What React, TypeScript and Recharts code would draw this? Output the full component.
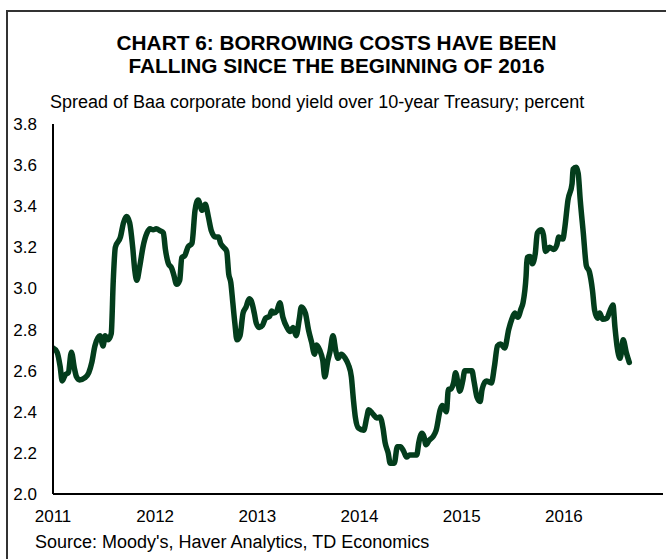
import React from "react";
import { LineChart, Line, XAxis, YAxis } from "recharts";

// decimal years
const dates = [
  2011.0, 2011.04, 2011.07, 2011.09, 2011.12, 2011.15, 2011.18, 2011.21, 2011.23, 2011.26,
  2011.31, 2011.35, 2011.38, 2011.41, 2011.46, 2011.49, 2011.51, 2011.54, 2011.57, 2011.59,
  2011.61, 2011.66, 2011.69, 2011.72, 2011.75, 2011.78, 2011.8, 2011.82, 2011.85, 2011.88,
  2011.92, 2011.95, 2011.98, 2012.01, 2012.05, 2012.08, 2012.1, 2012.13, 2012.16, 2012.18,
  2012.21, 2012.24, 2012.26, 2012.29, 2012.32, 2012.36, 2012.39, 2012.42, 2012.46, 2012.49,
  2012.52, 2012.55, 2012.59, 2012.62, 2012.64, 2012.67, 2012.7, 2012.72, 2012.74, 2012.76,
  2012.78, 2012.8, 2012.83, 2012.86, 2012.89, 2012.92, 2012.94, 2012.97, 2012.99, 2013.02,
  2013.05, 2013.08, 2013.12, 2013.14, 2013.16, 2013.19, 2013.22, 2013.25, 2013.29, 2013.32,
  2013.35, 2013.38, 2013.41, 2013.43, 2013.47, 2013.5, 2013.53, 2013.56, 2013.58, 2013.61,
  2013.64, 2013.66, 2013.69, 2013.71, 2013.74, 2013.77, 2013.79, 2013.82, 2013.86, 2013.89,
  2013.92, 2013.94, 2013.96, 2013.99, 2014.04, 2014.07, 2014.09, 2014.13, 2014.17, 2014.2,
  2014.23, 2014.25, 2014.28, 2014.3, 2014.34, 2014.37, 2014.4, 2014.43, 2014.46, 2014.49,
  2014.53, 2014.56, 2014.58, 2014.61, 2014.63, 2014.65, 2014.68, 2014.72, 2014.75, 2014.79,
  2014.81, 2014.85, 2014.87, 2014.89, 2014.92, 2014.94, 2014.97, 2014.98, 2015.01, 2015.03,
  2015.06, 2015.1, 2015.12, 2015.15, 2015.18, 2015.2, 2015.24, 2015.29, 2015.32, 2015.35,
  2015.38, 2015.42, 2015.46, 2015.49, 2015.52, 2015.55, 2015.58, 2015.6, 2015.63, 2015.64,
  2015.67, 2015.69, 2015.72, 2015.74, 2015.78, 2015.8, 2015.82, 2015.86, 2015.9, 2015.93,
  2015.95, 2015.99, 2016.01, 2016.04, 2016.08, 2016.09, 2016.12, 2016.14, 2016.16, 2016.19,
  2016.22, 2016.25, 2016.28, 2016.3, 2016.33, 2016.35, 2016.38, 2016.42, 2016.45, 2016.48,
  2016.5, 2016.52, 2016.55, 2016.56, 2016.58, 2016.61, 2016.64,
];

// Baa spread over 10-year Treasury, percent
const spread = [
  2.71, 2.69, 2.62, 2.55, 2.58, 2.59, 2.69, 2.61, 2.57, 2.555,
  2.565, 2.59, 2.64, 2.72, 2.77, 2.72, 2.77, 2.75, 2.78, 3.04,
  3.2, 3.25, 3.32, 3.35, 3.32, 3.2, 3.09, 3.04, 3.11, 3.2,
  3.27, 3.29, 3.285, 3.29, 3.28, 3.27, 3.19, 3.12, 3.1, 3.07,
  3.02, 3.04, 3.15, 3.16, 3.2, 3.22, 3.38, 3.43, 3.38, 3.41,
  3.35, 3.28, 3.25, 3.25, 3.22, 3.2, 3.18, 3.07, 3.03, 2.93,
  2.83, 2.75, 2.77, 2.88, 2.91, 2.95, 2.94, 2.88, 2.83, 2.81,
  2.82, 2.855, 2.865, 2.89, 2.88, 2.89, 2.93, 2.86, 2.81, 2.79,
  2.81, 2.77, 2.85, 2.91, 2.88, 2.8, 2.74, 2.68, 2.725, 2.7,
  2.65, 2.57, 2.65, 2.69, 2.77, 2.69, 2.66, 2.68, 2.66, 2.63,
  2.57, 2.46, 2.37, 2.32, 2.31, 2.37, 2.41, 2.39, 2.37, 2.375,
  2.32, 2.25, 2.2, 2.15, 2.15, 2.23, 2.23, 2.21, 2.18, 2.19,
  2.19, 2.19, 2.25, 2.295, 2.28, 2.24, 2.26, 2.28, 2.31, 2.41,
  2.43, 2.4, 2.51, 2.51, 2.54, 2.59, 2.52, 2.5, 2.55, 2.6,
  2.6, 2.6, 2.55, 2.47, 2.45, 2.51, 2.55, 2.54, 2.62, 2.72,
  2.73, 2.71, 2.8, 2.85, 2.88, 2.86, 2.9, 2.93, 3.06, 3.15,
  3.155, 3.12, 3.17, 3.27, 3.285, 3.26, 3.18, 3.2, 3.19, 3.21,
  3.25, 3.24, 3.3, 3.43, 3.51, 3.58, 3.59, 3.56, 3.43, 3.27,
  3.11, 3.08, 2.99, 2.895, 2.855, 2.88, 2.85, 2.855, 2.89, 2.92,
  2.81, 2.72, 2.66, 2.68, 2.75, 2.69, 2.64,
];

const yearTicks = [2011, 2012, 2013, 2014, 2015, 2016];
const valueTicks = [2.0, 2.2, 2.4, 2.6, 2.8, 3.0, 3.2, 3.4, 3.6, 3.8];

const data = dates.map((t, i) => ({ t, spread: spread[i] }));

const font = '"Liberation Sans", Arial, sans-serif';
const tickStyle = { fill: "#000", fontSize: 17, fontFamily: font };

export default function App() {
  return (
    <div
      style={{
        position: "absolute",
        left: 0,
        top: 0,
        width: 666,
        height: 559,
        background: "#fff",
        overflow: "hidden",
        fontFamily: font,
        color: "#000",
      }}
    >
      {/* frame, only top and left edges show in the crop */}
      <div
        style={{
          position: "absolute",
          left: 6,
          top: 10,
          width: 680,
          height: 580,
          borderTop: "2px solid #333",
          borderLeft: "2px solid #333",
        }}
      />
      <div
        style={{
          position: "absolute",
          left: 0,
          top: 31,
          width: 673,
          textAlign: "center",
          fontWeight: "bold",
          fontSize: 20.8,
          lineHeight: "23px",
        }}
      >
        CHART 6: BORROWING COSTS HAVE BEEN
        <br />
        FALLING SINCE THE BEGINNING OF 2016
      </div>
      <div
        style={{
          position: "absolute",
          left: 50,
          top: 92,
          fontSize: 18,
          whiteSpace: "nowrap",
        }}
      >
        Spread of Baa corporate bond yield over 10-year Treasury; percent
      </div>
      <div
        style={{
          position: "absolute",
          left: 35,
          top: 532,
          fontSize: 18,
          whiteSpace: "nowrap",
        }}
      >
        Source: Moody's, Haver Analytics, TD Economics
      </div>
      <div style={{ position: "absolute", left: 0, top: 0 }}>
        <LineChart
          width={666}
          height={559}
          data={data}
          margin={{ top: 124, right: 3, bottom: 35, left: 0 }}
        >
          <XAxis
            dataKey="t"
            type="number"
            domain={[2011, 2016.97]}
            ticks={yearTicks}
            tickFormatter={(v) => String(v)}
            tickLine={false}
            tickSize={0}
            tickMargin={16}
            height={30}
            axisLine={{ stroke: "#000", strokeWidth: 2 }}
            tick={tickStyle}
            allowDataOverflow
          />
          <YAxis
            type="number"
            domain={[2.0, 3.8]}
            ticks={valueTicks}
            tickFormatter={(v) => v.toFixed(1)}
            tickLine={false}
            tickSize={0}
            tickMargin={16}
            width={53}
            axisLine={{ stroke: "#000", strokeWidth: 2 }}
            tick={tickStyle}
            allowDataOverflow
          />
          <Line
            type="monotone"
            dataKey="spread"
            stroke="#033d1c"
            strokeWidth={5.5}
            strokeLinejoin="round"
            strokeLinecap="round"
            dot={false}
            activeDot={false}
            isAnimationActive={false}
          />
        </LineChart>
      </div>
    </div>
  );
}
